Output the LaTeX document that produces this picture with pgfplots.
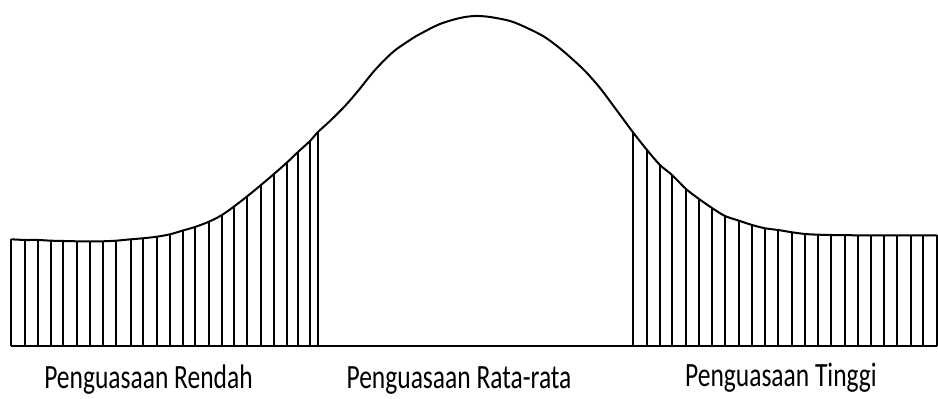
\documentclass[border=0pt]{standalone}
\usepackage{fontspec}
\setmainfont{Carlito}
\usepackage{pgfplots}
\pgfplotsset{compat=1.18}
\newcommand{\lbl}[1]{\scalebox{0.75}[1]{\fontsize{17}{20}\selectfont #1}}
\begin{document}
\begin{tikzpicture}
% 1 unit = 1 px of the reference; baseline at y=0
\begin{axis}[scale only axis,width=469pt,height=199.5pt,
  xmin=0,xmax=938,ymin=-53,ymax=346,hide axis,clip=false]
% bell curve
\addplot[black,line width=1pt,smooth,tension=0.5] coordinates {
(11,106.7)(25,106)(38,106)(51,105.3)(63,105)(77,104.7)(90,104.7)(103,104.7)
(116,105.3)(131,106.7)(143,107.7)(157,109.3)(170,111.7)(183,115.5)(195,119)
(209,124.3)(222,131)(234,139.5)(247,149.5)(261,161)(274,172)(287,183.5)
(298,194)(310,205)(318,214)
(330,225)(345,240)(358,255)(375,276)(393,294)(410,306)(420,312)(440,322)
(460,328)(475,330)(490,329)(510,325)(525,319)(543,310)(557,300)(570,289)
(585,275)(600,258)(615,238)
(633,213.7)(647,196)(660,181)(672,171)(686,157)(699,147)(712,138)(725,130)
(739,125.3)(752,121)(765,117.7)(778,116)(792,113.7)(805,112)(818,111.3)
(831,111)(845,110.8)(858,110.7)(871,110.7)(884,110.7)(897,110.7)(911,110.7)
(923,110.7)(937,110.7)};
% hatching, low tail
\addplot[ycomb,black,line width=0.75pt,mark=none] coordinates {
(11,106.7)(25,106)(38,106)(51,105.3)(63,105)(77,104.7)(90,104.7)(103,104.7)
(116,105.3)(131,106.7)(143,107.7)(157,109.3)(170,111.7)(183,115.5)(195,119)
(209,124.3)(222,131)(234,139.5)(247,149.5)(261,161)(274,172)(287,183.5)
(298,194)(310,205)(318,214)};
% hatching, high tail
\addplot[ycomb,black,line width=0.75pt,mark=none] coordinates {
(633,213.7)(647,196)(660,181)(672,171)(686,157)(699,147)(712,138)(725,130)
(739,125.3)(752,121)(765,117.7)(778,116)(792,113.7)(805,112)(818,111.3)
(831,111)(845,110.8)(858,110.7)(871,110.7)(884,110.7)(897,110.7)(911,110.7)
(923,110.7)(937,110.7)};
% baseline
\addplot[black,line width=1pt] coordinates {(11,0)(937,0)};
\node[anchor=base,inner sep=0pt] at (axis cs:148.5,-43) {\lbl{Penguasaan Rendah}};
\node[anchor=base,inner sep=0pt] at (axis cs:459,-43) {\lbl{Penguasaan Rata-rata}};
\node[anchor=base,inner sep=0pt] at (axis cs:781,-41) {\lbl{Penguasaan Tinggi}};
\end{axis}
\pgfresetboundingbox
\path[use as bounding box] (current axis.south west) rectangle (current axis.north east);
\end{tikzpicture}
\end{document}
